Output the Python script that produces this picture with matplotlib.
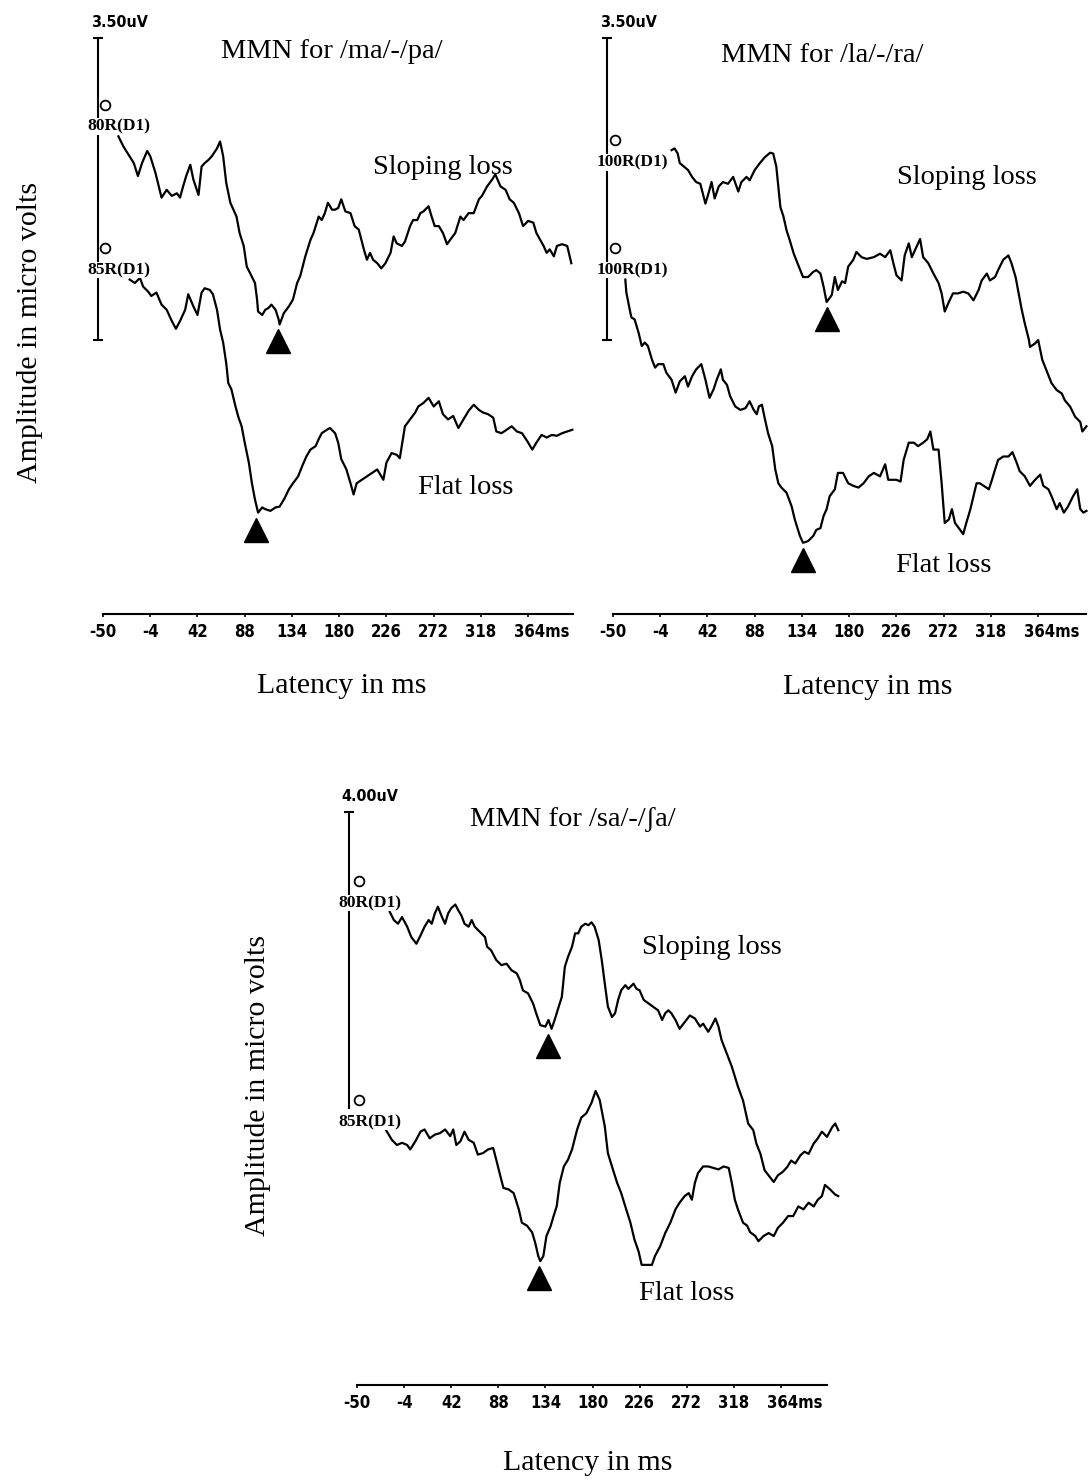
import numpy as np
import matplotlib.pyplot as plt
from matplotlib import font_manager
from matplotlib.font_manager import FontProperties
from matplotlib.transforms import ScaledTranslation, offset_copy

W, H = 1092, 1481
fig = plt.figure(figsize=(W / 100, H / 100), dpi=100)

SERIF = ['Liberation Serif', 'DejaVu Serif']

# narrow bold face for the instrument labels, if one is installed
NARROW, STRETCH, tick_fs, unit_fs = 'DejaVu Sans', 'normal', 10.5, 10.5
try:
    font_manager.findfont('Liberation Sans Narrow', fallback_to_default=False)
    NARROW, tick_fs, unit_fs = 'Liberation Sans Narrow', 14.5, 13
except ValueError:
    f = font_manager.findfont(FontProperties(family='DejaVu Sans', weight='bold', stretch='condensed'))
    if 'Condensed' in f:
        STRETCH, tick_fs, unit_fs = 'condensed', 12, 11.5


def fx(px):
    return px / W


def fy(py):
    return 1 - py / H


tick_ms = [-50, -4, 42, 88, 134, 180, 226, 272, 318, 364]
tick_text = ['-50', '-4', '42', '88', '134', '180', '226', '272', '318', '364ms']

# ---- /ma/-/pa/ ----
ma_slope_ms = [-35, -30, -20, -16, -12, -7, -4, 1, 7, 12,
               17, 22, 25, 28, 31, 35, 38, 43, 46, 49,
               53, 56, 61, 64, 67, 70, 74, 77, 80, 83,
               87, 90, 93, 98, 100, 101, 105, 108, 111, 114,
               118, 121, 122, 126, 131, 135, 139, 142, 147, 152,
               155, 160, 163, 166, 169, 173, 176, 179, 182, 186,
               191, 195, 199, 204, 207, 210, 213, 217, 221, 225,
               230, 233, 236, 241, 244, 249, 252, 256, 259, 262,
               267, 270, 273, 277, 281, 285, 288, 293, 298, 301,
               306, 311, 316, 319, 324, 329, 332, 337, 342, 346,
               350, 355, 359, 364, 369, 372, 379, 382, 385, 389,
               392, 397, 402, 406]
ma_slope_uv = [0.00, -0.12, -0.31, -0.46, -0.31, -0.17, -0.23, -0.42, -0.71, -0.62,
               -0.69, -0.66, -0.71, -0.58, -0.46, -0.33, -0.50, -0.68, -0.35, -0.31,
               -0.27, -0.23, -0.14, -0.06, -0.23, -0.54, -0.77, -0.85, -0.93, -1.12,
               -1.27, -1.51, -1.58, -1.70, -1.89, -2.03, -2.07, -2.01, -1.99, -1.95,
               -2.01, -2.12, -2.18, -2.05, -1.97, -1.89, -1.70, -1.62, -1.39, -1.20,
               -1.12, -0.93, -0.97, -0.89, -0.77, -0.85, -0.85, -0.83, -0.73, -0.87,
               -0.89, -1.04, -1.08, -1.31, -1.43, -1.35, -1.43, -1.47, -1.53, -1.47,
               -1.35, -1.16, -1.24, -1.27, -1.22, -1.04, -0.97, -0.97, -0.89, -0.87,
               -0.81, -0.93, -1.04, -1.04, -1.12, -1.25, -1.20, -1.12, -0.93, -0.97,
               -0.89, -0.89, -0.73, -0.69, -0.58, -0.50, -0.44, -0.58, -0.62, -0.73,
               -0.77, -0.89, -1.04, -0.98, -1.00, -1.12, -1.27, -1.35, -1.31, -1.39,
               -1.27, -1.25, -1.27, -1.47]
ma_flat_ms = [-24, -19, -14, -11, -6, -3, 2, 7, 12, 17,
              21, 25, 30, 33, 38, 42, 46, 49, 54, 57,
              61, 64, 67, 70, 72, 75, 79, 82, 85, 88,
              92, 95, 98, 101, 105, 108, 113, 118, 122, 127,
              131, 135, 140, 144, 148, 152, 157, 160, 163, 168,
              171, 176, 179, 182, 187, 191, 194, 197, 202, 207,
              212, 217, 220, 223, 226, 231, 236, 239, 244, 249,
              254, 257, 262, 267, 272, 277, 281, 286, 291, 296,
              301, 306, 311, 316, 320, 325, 330, 333, 338, 343,
              348, 353, 358, 363, 368, 372, 377, 382, 387, 392,
              397, 402, 407]
ma_flat_uv = [0.00, -0.04, 0.02, -0.08, -0.14, -0.19, -0.15, -0.29, -0.35, -0.48,
              -0.57, -0.48, -0.35, -0.17, -0.31, -0.41, -0.15, -0.10, -0.12, -0.17,
              -0.35, -0.58, -0.73, -0.97, -1.20, -1.27, -1.47, -1.60, -1.70, -1.89,
              -2.12, -2.36, -2.55, -2.70, -2.64, -2.66, -2.68, -2.64, -2.63, -2.53,
              -2.43, -2.36, -2.28, -2.16, -2.05, -1.97, -1.93, -1.85, -1.78, -1.74,
              -1.72, -1.78, -1.89, -2.08, -2.20, -2.36, -2.49, -2.36, -2.32, -2.28,
              -2.24, -2.20, -2.26, -2.32, -2.12, -2.01, -2.03, -2.07, -1.70, -1.62,
              -1.54, -1.47, -1.43, -1.37, -1.47, -1.41, -1.56, -1.62, -1.58, -1.72,
              -1.62, -1.52, -1.45, -1.51, -1.54, -1.56, -1.60, -1.76, -1.78, -1.74,
              -1.70, -1.76, -1.78, -1.87, -1.97, -1.89, -1.80, -1.83, -1.80, -1.81,
              -1.78, -1.76, -1.74]

# ---- /la/-/ra/ ----
la_slope_ms = [7, 10, 13, 15, 19, 23, 27, 31, 35, 40,
               43, 46, 49, 53, 57, 62, 67, 72, 75, 80,
               83, 88, 93, 98, 103, 106, 109, 113, 116, 119,
               122, 126, 131, 135, 140, 145, 148, 152, 155, 158,
               163, 166, 169, 173, 176, 179, 184, 187, 192, 197,
               204, 210, 215, 220, 223, 226, 231, 234, 238, 241,
               244, 249, 252, 257, 262, 267, 270, 273, 277, 281,
               286, 291, 296, 301, 306, 309, 314, 317, 322, 325,
               330, 335, 338, 342, 345, 348, 351, 355, 356, 361,
               364, 368, 372, 377, 382, 387, 390, 395, 400, 405,
               407, 411]
la_slope_uv = [0.00, 0.02, -0.04, -0.15, -0.19, -0.23, -0.31, -0.37, -0.39, -0.62,
               -0.50, -0.37, -0.56, -0.42, -0.37, -0.39, -0.31, -0.48, -0.37, -0.31,
               -0.35, -0.23, -0.15, -0.08, -0.03, -0.04, -0.19, -0.66, -0.77, -0.93,
               -1.04, -1.20, -1.35, -1.47, -1.47, -1.41, -1.39, -1.43, -1.58, -1.76,
               -1.68, -1.47, -1.62, -1.52, -1.54, -1.35, -1.27, -1.18, -1.24, -1.26,
               -1.24, -1.20, -1.24, -1.16, -1.31, -1.45, -1.51, -1.22, -1.08, -1.24,
               -1.16, -1.03, -1.24, -1.31, -1.43, -1.54, -1.66, -1.87, -1.76, -1.66,
               -1.66, -1.64, -1.66, -1.74, -1.62, -1.51, -1.43, -1.51, -1.47, -1.39,
               -1.27, -1.22, -1.31, -1.47, -1.66, -1.85, -2.01, -2.20, -2.28, -2.24,
               -2.20, -2.43, -2.55, -2.70, -2.78, -2.82, -2.90, -2.97, -3.09, -3.15,
               -3.26, -3.20]
la_flat_ms = [-38, -37, -33, -32, -29, -25, -22, -19, -16, -12,
              -9, -6, -1, 2, 7, 11, 15, 20, 23, 27,
              31, 36, 40, 44, 48, 51, 55, 57, 61, 64,
              69, 74, 79, 83, 87, 90, 92, 95, 98, 101,
              105, 108, 111, 114, 119, 124, 127, 132, 135, 140,
              145, 148, 152, 155, 158, 161, 166, 169, 174, 179,
              184, 189, 194, 199, 204, 210, 215, 218, 221, 226,
              230, 233, 238, 243, 247, 252, 256, 259, 262, 267,
              270, 273, 277, 280, 283, 288, 291, 294, 298, 301,
              304, 307, 311, 316, 319, 322, 325, 330, 335, 339,
              343, 346, 351, 356, 361, 366, 369, 374, 377, 382,
              385, 389, 393, 398, 402, 405, 408, 411]
la_flat_uv = [0.00, -0.15, -0.39, -0.44, -0.46, -0.62, -0.77, -0.73, -0.77, -0.93,
              -1.02, -0.98, -0.98, -1.08, -1.16, -1.31, -1.18, -1.12, -1.24, -1.12,
              -1.04, -0.98, -1.16, -1.37, -1.27, -1.16, -1.04, -1.16, -1.22, -1.35,
              -1.47, -1.51, -1.49, -1.41, -1.51, -1.56, -1.47, -1.45, -1.62, -1.78,
              -1.93, -2.20, -2.36, -2.41, -2.47, -2.63, -2.78, -2.97, -3.05, -3.03,
              -2.97, -2.90, -2.88, -2.74, -2.66, -2.51, -2.43, -2.24, -2.24, -2.36,
              -2.39, -2.41, -2.36, -2.28, -2.24, -2.28, -2.14, -2.32, -2.32, -2.32,
              -2.34, -2.09, -1.89, -1.89, -1.93, -1.89, -1.85, -1.76, -1.97, -1.97,
              -2.36, -2.82, -2.78, -2.66, -2.82, -2.90, -2.95, -2.82, -2.66, -2.51,
              -2.36, -2.36, -2.39, -2.43, -2.32, -2.20, -2.09, -2.05, -2.05, -2.00,
              -2.12, -2.22, -2.28, -2.39, -2.32, -2.26, -2.39, -2.43, -2.51, -2.66,
              -2.59, -2.70, -2.63, -2.51, -2.43, -2.66, -2.70, -2.68]

# ---- /sa/-/ʃa/ ----
sa_slope_ms = [-18, -14, -10, -6, -1, 3, 8, 12, 16, 20,
               23, 26, 29, 33, 36, 39, 42, 46, 49, 52,
               55, 59, 62, 65, 70, 75, 77, 81, 86, 91,
               96, 101, 106, 109, 112, 117, 122, 125, 129, 134,
               137, 140, 143, 147, 150, 153, 156, 160, 163, 166,
               169, 173, 176, 179, 182, 186, 189, 192, 195, 199,
               202, 205, 208, 212, 215, 220, 223, 226, 230, 235,
               239, 244, 248, 251, 254, 257, 261, 265, 270, 275,
               280, 285, 288, 293, 296, 300, 303, 306, 311, 316,
               322, 327, 332, 337, 340, 344, 348, 353, 357, 361,
               366, 370, 374, 378, 383, 387, 391, 396, 400, 404,
               409, 414, 417, 420]
sa_slope_uv = [0.00, -0.11, -0.16, -0.07, -0.20, -0.34, -0.43, -0.32, -0.20, -0.11,
               -0.16, -0.02, 0.07, -0.07, -0.16, -0.02, 0.05, 0.10, 0.02, -0.05,
               -0.16, -0.20, -0.11, -0.20, -0.27, -0.34, -0.47, -0.52, -0.65, -0.72,
               -0.70, -0.79, -0.83, -0.92, -1.06, -1.10, -1.24, -1.37, -1.53, -1.55,
               -1.46, -1.58, -1.46, -1.28, -1.15, -0.74, -0.61, -0.47, -0.29, -0.29,
               -0.20, -0.16, -0.18, -0.14, -0.20, -0.38, -0.65, -0.97, -1.28, -1.42,
               -1.37, -1.19, -1.06, -0.99, -1.04, -0.97, -1.04, -1.06, -1.19, -1.24,
               -1.28, -1.33, -1.46, -1.37, -1.33, -1.37, -1.46, -1.58, -1.49, -1.40,
               -1.44, -1.55, -1.51, -1.62, -1.55, -1.44, -1.55, -1.73, -1.91, -2.09,
               -2.36, -2.55, -2.86, -2.95, -3.13, -3.27, -3.49, -3.58, -3.65, -3.56,
               -3.51, -3.45, -3.36, -3.40, -3.29, -3.24, -3.27, -3.13, -3.06, -2.97,
               -3.04, -2.91, -2.86, -2.95]
sa_flat_ms = [-23, -19, -16, -11, -6, -1, 2, 7, 12, 16,
              21, 26, 31, 36, 41, 44, 47, 51, 55, 59,
              64, 68, 73, 78, 83, 86, 90, 93, 98, 103,
              108, 111, 116, 121, 124, 127, 129, 132, 135, 139,
              142, 145, 148, 152, 156, 160, 165, 169, 174, 179,
              183, 187, 192, 195, 199, 204, 208, 212, 217, 221,
              225, 228, 233, 238, 241, 246, 251, 256, 261, 265,
              270, 274, 277, 280, 283, 288, 293, 298, 303, 308,
              313, 316, 319, 322, 327, 331, 334, 339, 342, 347,
              352, 357, 361, 366, 371, 376, 381, 386, 391, 396,
              400, 404, 407, 412, 417, 420]
sa_flat_uv = [0.00, -0.09, -0.16, -0.23, -0.20, -0.23, -0.29, -0.18, -0.05, -0.02,
              -0.14, -0.09, -0.07, -0.02, -0.11, -0.02, -0.23, -0.18, -0.05, -0.16,
              -0.20, -0.36, -0.34, -0.29, -0.27, -0.43, -0.65, -0.81, -0.83, -0.88,
              -1.10, -1.28, -1.32, -1.41, -1.55, -1.73, -1.80, -1.73, -1.46, -1.33,
              -1.19, -1.06, -0.74, -0.52, -0.43, -0.29, -0.02, 0.14, 0.20, 0.34,
              0.50, 0.38, 0.02, -0.34, -0.52, -0.74, -0.88, -1.06, -1.28, -1.51,
              -1.67, -1.85, -1.85, -1.85, -1.73, -1.60, -1.42, -1.28, -1.10, -1.01,
              -0.92, -0.88, -0.97, -0.74, -0.61, -0.52, -0.52, -0.54, -0.56, -0.52,
              -0.54, -0.74, -0.97, -1.10, -1.28, -1.32, -1.41, -1.46, -1.53, -1.46,
              -1.42, -1.46, -1.35, -1.28, -1.19, -1.19, -1.06, -1.10, -1.01, -1.06,
              -0.97, -0.92, -0.77, -0.83, -0.90, -0.92]

# MMN peaks marked with triangles (latency ms, amplitude uV)
ma_peaks = [(120, -2.18), (99, -2.70)]
la_peaks = [(158, -1.76), (135, -3.05)]
sa_peaks = [(137, -1.58), (128, -1.80)]

panels = [
    dict(x0=103, kx=1.027, y0=340, ky=86.3, xlim=(-57, 414), ylim=(-3.175, 3.9),
         axis_end=408, bar_x=-55, bar=3.5, bar_text='3.50uV', bottom_cap=True,
         title='MMN for /ma/-/pa/', title_px=(332, 52),
         xlabel_px=(342, 686), ylabel_px=(30, 332),
         traces=[
             dict(ms=ma_slope_ms, uv=ma_slope_uv, off=2.36, chan='80R(D1)', chan_y=2.47,
                  peak=ma_peaks[0], name='Sloping loss', name_px=(443, 167)),
             dict(ms=ma_flat_ms, uv=ma_flat_uv, off=0.70, chan='85R(D1)', chan_y=0.81,
                  peak=ma_peaks[1], name='Flat loss', name_px=(466, 487)),
         ]),
    dict(x0=613, kx=1.027, y0=340, ky=86.3, xlim=(-58, 414), ylim=(-3.175, 3.9),
         axis_end=411, bar_x=-56, bar=3.5, bar_text='3.50uV', bottom_cap=True,
         title='MMN for /la/-/ra/', title_px=(822, 55),
         xlabel_px=(868, 687), ylabel_px=None,
         traces=[
             dict(ms=la_slope_ms, uv=la_slope_uv, off=2.20, chan='100R(D1)', chan_y=2.06,
                  peak=la_peaks[0], name='Sloping loss', name_px=(967, 178)),
             dict(ms=la_flat_ms, uv=la_flat_uv, off=0.70, chan='100R(D1)', chan_y=0.81,
                  peak=la_peaks[1], name='Flat loss', name_px=(944, 565)),
         ]),
    dict(x0=357, kx=1.024, y0=1108, ky=74.0, xlim=(-61, 424), ylim=(-3.74, 4.4),
         axis_end=409, bar_x=-58, bar=4.0, bar_text='4.00uV', bottom_cap=False,
         title='MMN for /sa/-/\u0283a/', title_px=(573, 819),
         xlabel_px=(588, 1463), ylabel_px=(258, 1085),
         traces=[
             dict(ms=sa_slope_ms, uv=sa_slope_uv, off=2.65, chan='80R(D1)', chan_y=2.77,
                  peak=sa_peaks[0], name='Sloping loss', name_px=(712, 948)),
             dict(ms=sa_flat_ms, uv=sa_flat_uv, off=-0.27, chan='85R(D1)', chan_y=-0.19,
                  peak=sa_peaks[1], name='Flat loss', name_px=(687, 1293)),
         ]),
]

for p in panels:
    left = p['x0'] + (p['xlim'][0] + 50) * p['kx']
    right = p['x0'] + (p['xlim'][1] + 50) * p['kx']
    top = p['y0'] - p['ylim'][1] * p['ky']
    bottom = p['y0'] - p['ylim'][0] * p['ky']
    ax = fig.add_axes([left / W, 1 - bottom / H, (right - left) / W, (bottom - top) / H])
    ax.set_xlim(*p['xlim'])
    ax.set_ylim(*p['ylim'])
    ax.patch.set_alpha(0)
    for s in ['top', 'right', 'left']:
        ax.spines[s].set_visible(False)
    ax.spines['bottom'].set_bounds(-50, p['axis_end'])
    ax.spines['bottom'].set_linewidth(1.5)
    ax.set_yticks([])
    ax.set_xticks(tick_ms)
    ax.set_xticklabels(tick_text, fontfamily=NARROW, fontstretch=STRETCH,
                       fontweight='bold', fontsize=tick_fs)
    ax.tick_params(axis='x', direction='out', length=2.5, width=1.2, pad=4)
    last = ax.get_xticklabels()[-1]
    last.set_horizontalalignment('left')
    last.set_transform(last.get_transform() + ScaledTranslation(-14 / 100, 0, fig.dpi_scale_trans))

    # amplitude scale bar
    bx = p['bar_x']
    ax.plot([bx, bx], [0, p['bar']], color='black', lw=1.5, zorder=2, clip_on=False)
    ax.plot([bx], [p['bar']], marker='_', ms=7, mew=1.5, color='black', clip_on=False)
    if p['bottom_cap']:
        ax.plot([bx], [0], marker='_', ms=7, mew=1.5, color='black', clip_on=False)
    ax.annotate(p['bar_text'], xy=(bx, p['bar']), xytext=(-7, 11), textcoords='offset pixels',
                ha='left', va='baseline', fontfamily=NARROW, fontstretch=STRETCH,
                fontweight='bold', fontsize=unit_fs, annotation_clip=False)

    tri = offset_copy(ax.transData, fig=fig, y=-17, units='dots')
    ring = offset_copy(ax.transData, fig=fig, x=2, y=22, units='dots')
    for t in p['traces']:
        y = np.array(t['uv']) + t['off']
        ax.plot(t['ms'], y, color='black', lw=1.6, zorder=3, clip_on=False)
        ax.plot([t['peak'][0]], [t['peak'][1] + t['off']], marker='^', ms=17,
                color='black', transform=tri, zorder=3, clip_on=False)
        ax.annotate(t['chan'], xy=(bx, t['chan_y']), xytext=(-10, 0), textcoords='offset pixels',
                    ha='left', va='center', fontfamily=SERIF, fontweight='bold', fontsize=12.5,
                    bbox=dict(fc='white', ec='none', pad=0.3), zorder=5, annotation_clip=False)
        ax.plot([-50], [t['chan_y']], marker='o', ms=7, mfc='none', mec='black', mew=1.3,
                transform=ring, zorder=5, clip_on=False)
        fig.text(fx(t['name_px'][0]), fy(t['name_px'][1]), t['name'], ha='center', va='center',
                 fontfamily=SERIF, fontsize=20.5)

    fig.text(fx(p['title_px'][0]), fy(p['title_px'][1]), p['title'], ha='center', va='center',
             fontfamily=SERIF, fontsize=20.5)
    fig.text(fx(p['xlabel_px'][0]), fy(p['xlabel_px'][1]), 'Latency in ms', ha='center',
             va='center', fontfamily=SERIF, fontsize=21.5)
    if p['ylabel_px'] is not None:
        fig.text(fx(p['ylabel_px'][0]), fy(p['ylabel_px'][1]), 'Amplitude in micro volts',
                 ha='center', va='center', rotation=90, fontfamily=SERIF, fontsize=21.5)

fig.savefig('out.png', dpi=100, facecolor='white')
